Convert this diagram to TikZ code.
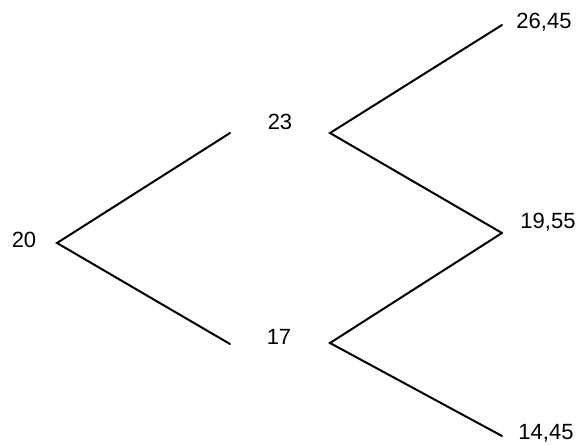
\documentclass[tikz,border=0pt]{standalone}
\usepackage{fontspec}
\setmainfont{Liberation Sans}
\begin{document}
\begin{tikzpicture}[x=1pt,y=-1pt,
  lbl/.style={inner sep=0pt,font=\fontsize{22}{26}\selectfont},
  edge/.style={line width=2pt,line cap=round}]
\useasboundingbox (0,0) rectangle (582,445);
\node[lbl] (n20) at (24,240) {20};
\node[lbl] (n23) at (280,122) {23};
\node[lbl] (n17) at (279,337) {17};
\node[lbl] (n2645) at (544,22) {26,45};
\node[lbl] (n1955) at (548,222) {19,55};
\node[lbl] (n1445) at (546,433) {14,45};
\coordinate (a20) at (57,243);
\coordinate (e23) at (230,133);
\coordinate (e17) at (230,344);
\coordinate (a23) at (330,133);
\coordinate (a17) at (330,343);
\coordinate (e2645) at (502,25);
\coordinate (e1955) at (502,233);
\coordinate (e1445) at (502,436);
\draw[edge] (e23) -- (a20) -- (e17);
\draw[edge] (e2645) -- (a23) -- (e1955);
\draw[edge] (e1955) -- (a17) -- (e1445);
\end{tikzpicture}
\end{document}
